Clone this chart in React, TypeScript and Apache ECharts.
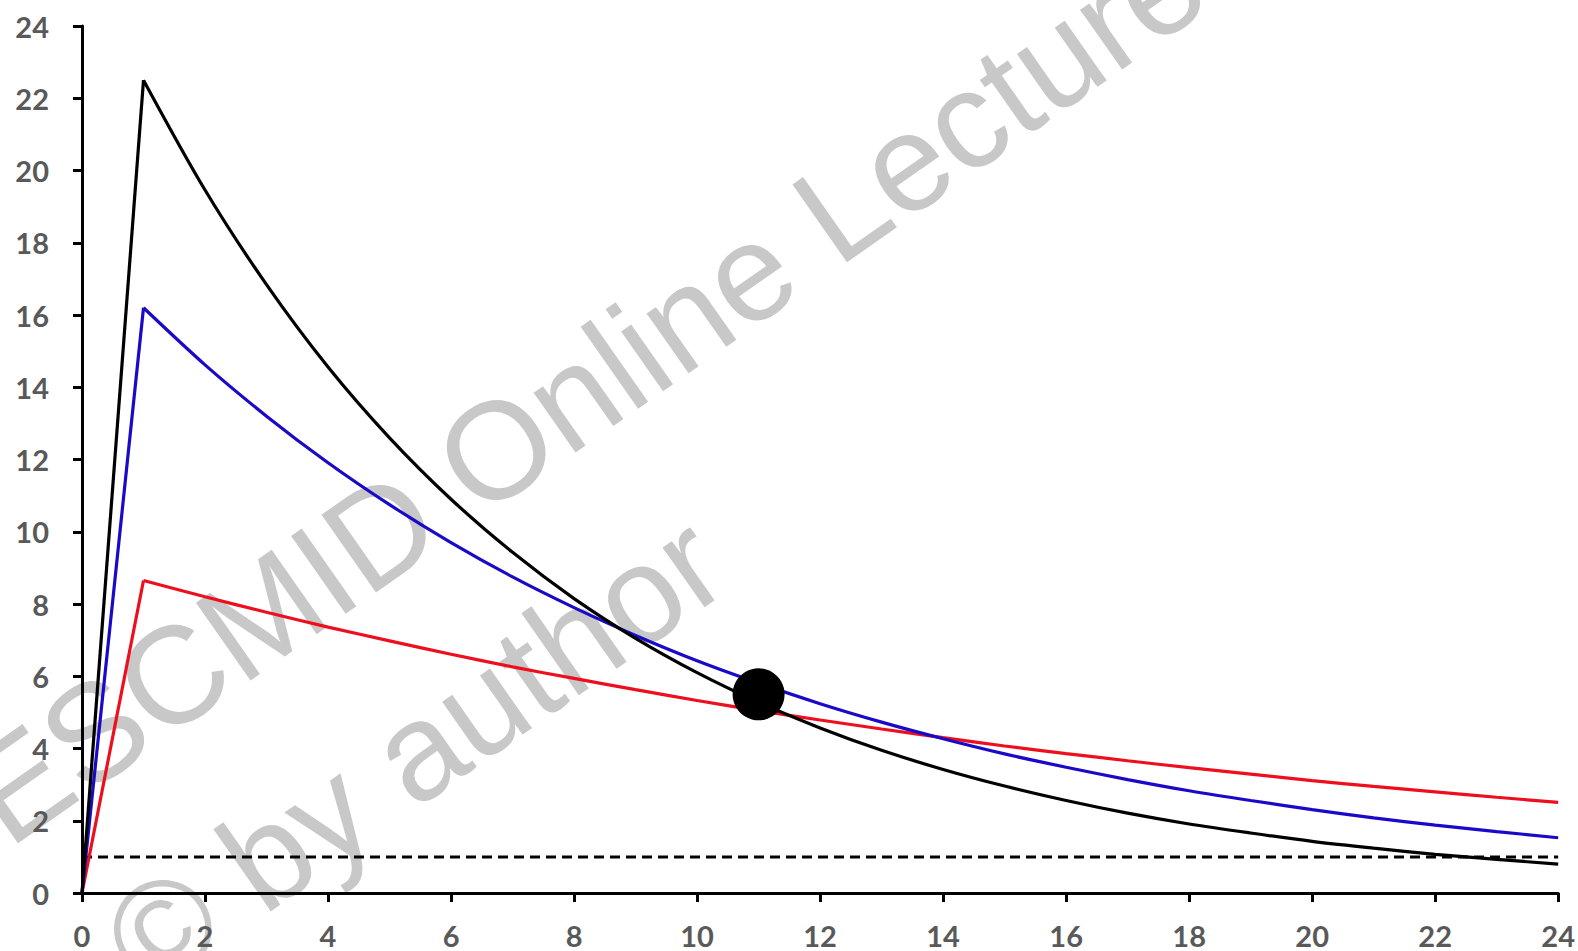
import React, { useEffect, useRef } from "react";
import * as echarts from "echarts";

// Time (h)
const hours = [0, 1, 2, 3, 4, 5, 6, 7, 8, 9, 10, 11, 12, 13, 14, 15, 16, 17, 18, 19, 20, 21, 22, 23, 24];

// Concentration curves
const blackValues = [0, 22.5, 19.46, 16.84, 14.56, 12.6, 10.9, 9.43, 8.15, 7.05, 6.1, 5.28, 4.57, 3.95, 3.42, 2.96, 2.56, 2.21, 1.91, 1.66, 1.43, 1.24, 1.07, 0.93, 0.8];
const blueValues = [0, 16.2, 14.62, 13.2, 11.91, 10.75, 9.7, 8.75, 7.9, 7.13, 6.43, 5.81, 5.24, 4.73, 4.27, 3.85, 3.48, 3.14, 2.83, 2.56, 2.31, 2.08, 1.88, 1.7, 1.53];
const redValues = [0, 8.65, 8.2, 7.77, 7.36, 6.98, 6.61, 6.26, 5.94, 5.63, 5.33, 5.05, 4.79, 4.54, 4.3, 4.07, 3.86, 3.66, 3.47, 3.29, 3.11, 2.95, 2.8, 2.65, 2.51];

// Threshold (dashed) line
const thresholdX = [0, 24];
const thresholdY = [1, 1];

// Highlighted point
const markPoint = [11, 5.5];

// Watermark text
const watermarkLine1 = "ESCMID Online Lecture Library";
const watermarkLine2 = "© by author";

const zip = (xs: number[], ys: number[]) => xs.map((x, i) => [x, ys[i]]);

function curveSeries(values: number[], color: string, z: number) {
  const pts = zip(hours, values);
  return [
    {
      type: "line",
      data: pts.slice(0, 2),
      showSymbol: false,
      lineStyle: { color, width: 3.2 },
      z,
    },
    {
      type: "line",
      data: pts.slice(1),
      showSymbol: false,
      smooth: 0.3,
      lineStyle: { color, width: 3.2 },
      z,
    },
  ];
}

export default function App() {
  const ref = useRef<HTMLDivElement>(null);

  useEffect(() => {
    if (!ref.current) return;
    const chart = echarts.init(ref.current, null, { renderer: "svg" });
    const fs = 138;
    const rot = (35 * Math.PI) / 180;
    const labelStyle = {
      color: "#595959",
      fontFamily: "Lato",
      fontWeight: "bold" as const,
      fontSize: 29,
    };
    chart.setOption({
      animation: false,
      backgroundColor: "#ffffff",
      grid: { left: 82, right: 16, top: 26, bottom: 58, containLabel: false },
      xAxis: {
        type: "value",
        min: 0,
        max: 24,
        interval: 2,
        splitLine: { show: false },
        axisLine: { show: true, onZero: false, lineStyle: { color: "#000", width: 3 } },
        axisTick: { show: true, inside: false, length: 9, lineStyle: { color: "#000", width: 3 } },
        axisLabel: { ...labelStyle, margin: 28 },
      },
      yAxis: {
        type: "value",
        min: 0,
        max: 24,
        interval: 2,
        splitLine: { show: false },
        axisLine: { show: true, onZero: false, lineStyle: { color: "#000", width: 3 } },
        axisTick: { show: true, inside: false, length: 9, lineStyle: { color: "#000", width: 3 } },
        axisLabel: { ...labelStyle, margin: 33 },
      },
      graphic: [
        {
          type: "group",
          x: 9,
          y: 850,
          rotation: rot,
          z: -10,
          silent: true,
          children: [
            {
              type: "text",
              x: 0,
              y: -0.35 * fs,
              style: {
                text: watermarkLine1,
                fontFamily: "Liberation Sans",
                fontSize: fs,
                fill: "#c8c8c8",
                verticalAlign: "middle",
                align: "left",
              },
            },
            {
              type: "text",
              x: 30,
              y: 0.8 * fs + 42,
              style: {
                text: watermarkLine2,
                fontFamily: "Liberation Sans",
                fontSize: fs,
                fill: "#c8c8c8",
                verticalAlign: "middle",
                align: "left",
              },
            },
          ],
        },
      ],
      series: [
        {
          type: "line",
          data: zip(thresholdX, thresholdY),
          showSymbol: false,
          lineStyle: { color: "#000", width: 3, type: [10, 6] },
          z: 3,
        },
        ...curveSeries(redValues, "#ee0f1e", 4),
        ...curveSeries(blueValues, "#1a0ac8", 5),
        ...curveSeries(blackValues, "#000000", 6),
        {
          type: "scatter",
          data: [markPoint],
          symbol: "circle",
          symbolSize: 52,
          itemStyle: { color: "#000", opacity: 1 },
          z: 7,
        },
      ],
    });
    return () => chart.dispose();
  }, []);

  return (
    <div
      ref={ref}
      style={{ position: "fixed", left: 0, top: 0, width: 1578, height: 951, background: "#fff" }}
    />
  );
}
